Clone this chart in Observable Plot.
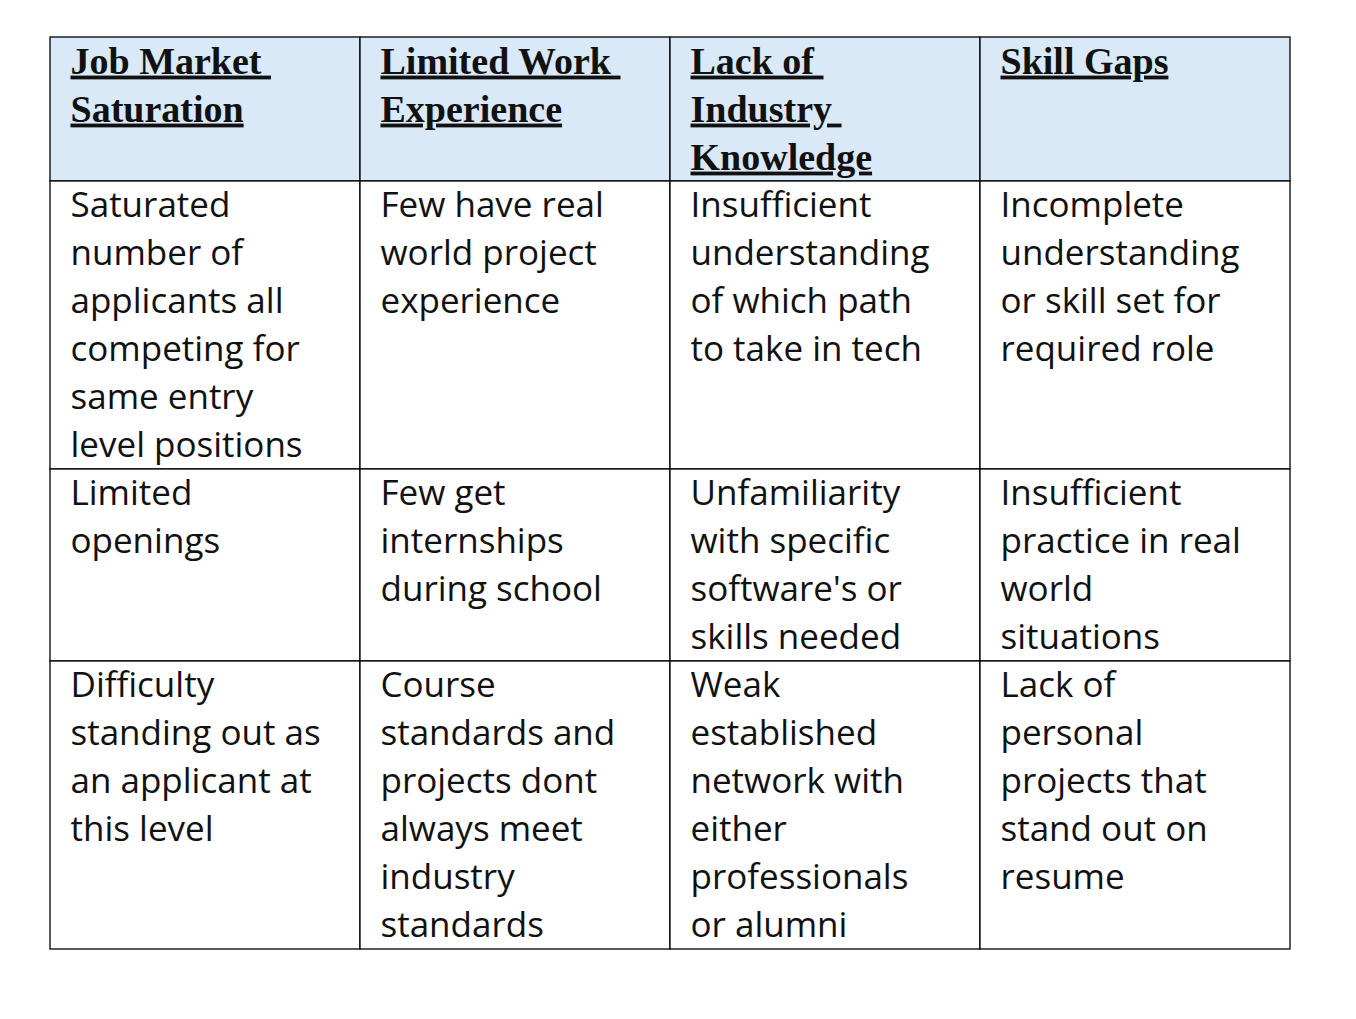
<!DOCTYPE html>
<html>
<head>
<meta charset="utf-8">
<script src="https://cdn.jsdelivr.net/npm/d3@7"></script>
<script src="https://cdn.jsdelivr.net/npm/@observablehq/plot@0.6"></script>
<style>
  body { margin: 0; background: #fff; }
  .hdr text { text-decoration: underline; }
</style>
</head>
<body>
<div id="chart"></div>
<script>
// table columns and rows (text already wrapped as in the document)
const headers = ["Job Market \nSaturation", "Limited Work \nExperience", "Lack of \nIndustry \nKnowledge", "Skill Gaps"];
const rowLines = [3, 6, 4, 6]; // line count of each row, header first
const body = [
  ["Saturated\nnumber of\napplicants all\ncompeting for\nsame entry\nlevel positions",
   "Few have real\nworld project\nexperience",
   "Insufficient\nunderstanding\nof which path\nto take in tech",
   "Incomplete\nunderstanding\nor skill set for\nrequired role"],
  ["Limited\nopenings",
   "Few get\ninternships\nduring school",
   "Unfamiliarity\nwith specific\nsoftware's or\nskills needed",
   "Insufficient\npractice in real\nworld\nsituations"],
  ["Difficulty\nstanding out as\nan applicant at\nthis level",
   "Course\nstandards and\nprojects dont\nalways meet\nindustry\nstandards",
   "Weak\nestablished\nnetwork with\neither\nprofessionals\nor alumni",
   "Lack of\npersonal\nprojects that\nstand out on\nresume"]
];

const starts = d3.cumsum([0, ...rowLines]);
const cells = [];
[headers, ...body].forEach((row, r) => row.forEach((t, c) => cells.push({
  col: c, row: r, y1: starts[r], y2: starts[r + 1], text: t
})));

const chart = Plot.plot({
  width: 1356,
  height: 1019,
  marginLeft: 50,
  marginRight: 66,
  marginTop: 37,
  marginBottom: 70,
  x: { domain: [0, 4], axis: null },
  y: { domain: [0, d3.sum(rowLines)], reverse: true, axis: null },
  marks: [
    Plot.rect(cells, {
      x1: "col", x2: d => d.col + 1, y1: "y1", y2: "y2",
      fill: d => d.row === 0 ? "#dae9f8" : "white",
      stroke: "black", strokeWidth: 1.3
    }),
    Plot.text(cells.filter(d => d.row === 0), {
      x: "col", y: "y1", text: "text", className: "hdr",
      textAnchor: "start", lineAnchor: "top", dx: 20, dy: 2,
      lineHeight: 48 / 38, fontSize: 38, fontWeight: "bold",
      fontFamily: "Liberation Serif, Times New Roman, serif", fill: "#111"
    }),
    Plot.text(cells.filter(d => d.row > 0), {
      x: "col", y: "y1", text: "text",
      textAnchor: "start", lineAnchor: "top", dx: 20, dy: 1,
      lineHeight: 48 / 35, fontSize: 35,
      fontFamily: "Open Sans, sans-serif", fill: "#111"
    })
  ]
});
document.getElementById("chart").append(chart);
</script>
</body>
</html>
